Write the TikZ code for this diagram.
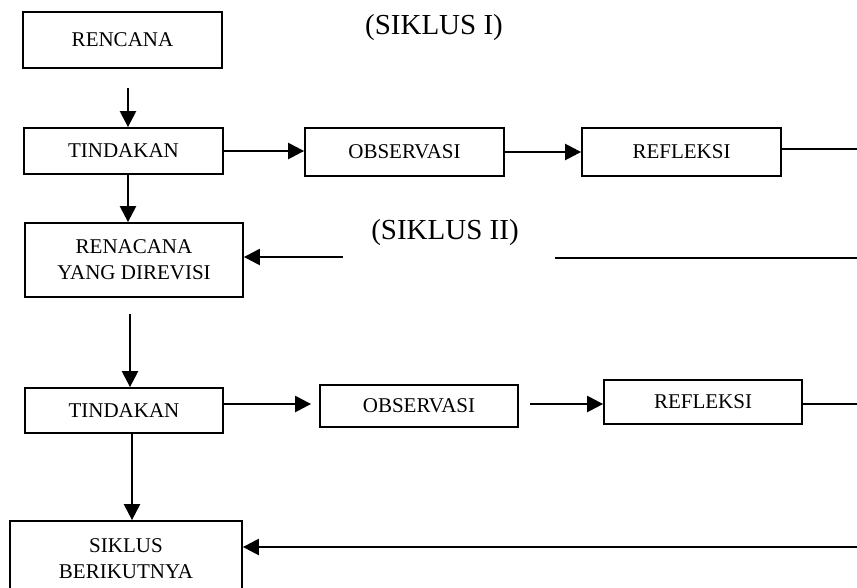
\documentclass[tikz,border=0pt]{standalone}
\usepackage{fontspec}
\setmainfont{Liberation Serif}
\usetikzlibrary{arrows.meta}

\begin{document}
\begin{tikzpicture}[x=1pt, y=-1pt,
  boxnode/.style={rectangle, draw=black, line width=1.8pt, inner sep=0pt, align=center, font=\fontsize{21}{26}\selectfont},
  arrowline/.style={-{Triangle[length=16pt, width=16pt]}, line width=2.4pt},
  thinline/.style={line width=1.2pt},
  judulnode/.style={font=\fontsize{29}{34}\selectfont}]

\useasboundingbox (0,0) rectangle (857,587);

%Nodes
\node[boxnode, minimum width=199pt, minimum height=56pt] (rencana) at (122.5,40) {RENCANA};
\node[boxnode, minimum width=199pt, minimum height=46pt] (tindakan1) at (123.5,151) {TINDAKAN};
\node[boxnode, minimum width=199pt, minimum height=48pt] (observasi1) at (404.5,152) {OBSERVASI};
\node[boxnode, minimum width=199pt, minimum height=48pt] (refleksi1) at (681.5,152) {REFLEKSI};
\node[boxnode, minimum width=218pt, minimum height=74pt] (revisi) at (134,260) {RENACANA\\YANG DIREVISI};
\node[boxnode, minimum width=198pt, minimum height=45pt] (tindakan2) at (124,410.5) {TINDAKAN};
\node[boxnode, minimum width=198pt, minimum height=42pt] (observasi2) at (419,406) {OBSERVASI};
\node[boxnode, minimum width=198pt, minimum height=44pt] (refleksi2) at (703,402) {REFLEKSI};
\node[boxnode, minimum width=232pt, minimum height=76pt] (berikutnya) at (126,559) {SIKLUS\\BERIKUTNYA};

\node[judulnode] (siklus1) at (434,28) {(SIKLUS I)};
\node[judulnode] (siklus2) at (445,233) {(SIKLUS II)};

%Points
\coordinate (start1) at (128,88);
\coordinate (ujung1) at (857,149);
\coordinate (start2) at (343,257);
\coordinate (garis2a) at (555,258);
\coordinate (garis2b) at (857,258);
\coordinate (start3) at (130,314);
\coordinate (ujung2) at (857,404);
\coordinate (start4) at (132,433);
\coordinate (start5) at (857,547);

%line
\draw[arrowline] (start1) -- (start1 |- tindakan1.north);
\draw[arrowline] (tindakan1.east) -- (tindakan1.east -| observasi1.west);
\draw[arrowline] (observasi1.east) -- (refleksi1.west);
\draw[thinline] (refleksi1.east |- ujung1) -- (ujung1);

\draw[arrowline] (tindakan1.south -| start1) -- (revisi.north -| start1);
\draw[arrowline] (start2) -- (start2 -| revisi.east);
\draw[line width=2pt] (garis2a) -- (garis2b);

\draw[arrowline] (start3) -- (start3 |- tindakan2.north);
\draw[arrowline] (tindakan2.east |- ujung2) -- ([xshift=-8pt]observasi2.west |- ujung2);
\draw[arrowline] ([xshift=11pt]observasi2.east |- ujung2) -- (refleksi2.west |- ujung2);
\draw[thinline] (refleksi2.east |- ujung2) -- (ujung2);

\draw[arrowline] (start4) -- (start4 |- berikutnya.north);
\draw[arrowline] (start5) -- (start5 -| berikutnya.east);

\end{tikzpicture}
\end{document}
